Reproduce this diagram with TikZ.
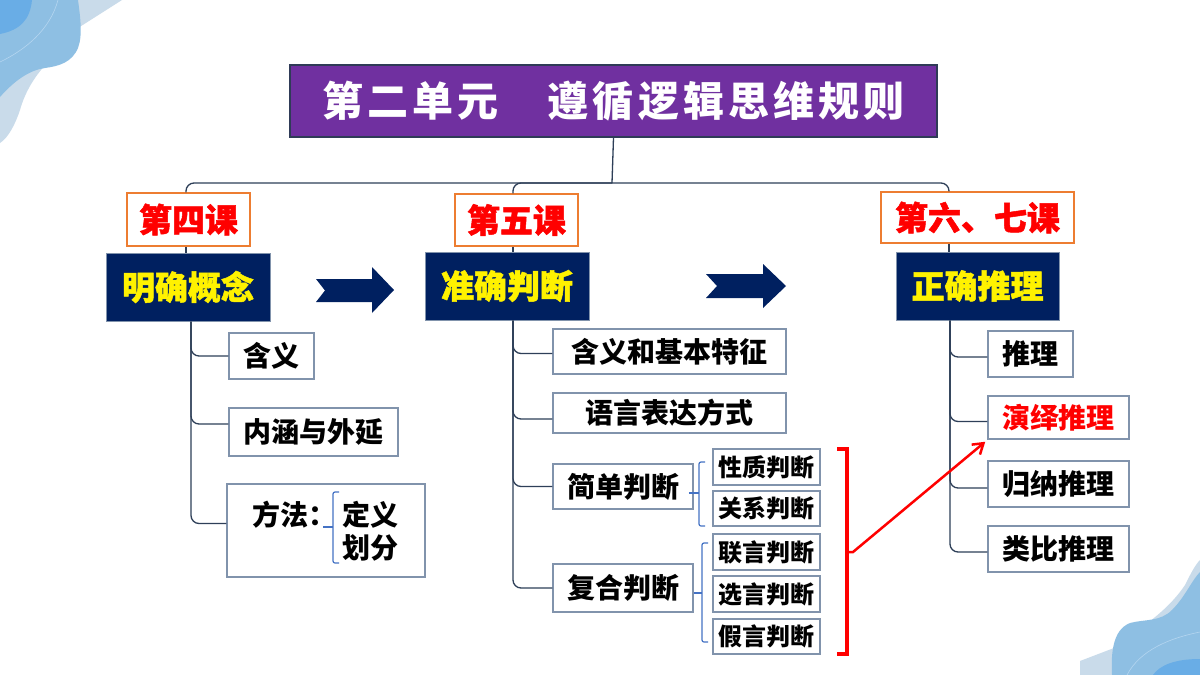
\documentclass[tikz,border=0pt]{standalone}
\usepackage{fontspec}
\usetikzlibrary{arrows.meta,calc}
\newfontfamily\cjk{Noto Sans CJK SC}
\newfontfamily\cjkhv{Noto Sans CJK SC}[BoldFeatures={FakeBold=1.5}]
\newfontfamily\cjkttl{Noto Sans CJK SC}[LetterSpace=10]
\definecolor{ttlpurple}{HTML}{7030A0}
\definecolor{ttlborder}{HTML}{2F3B57}
\definecolor{navy}{HTML}{002060}
\definecolor{hdorange}{HTML}{ED7D31}
\definecolor{boxborder}{HTML}{8193AC}
\definecolor{connc}{HTML}{2E3F58}
\definecolor{bracec}{HTML}{4472C4}
\definecolor{decolight}{HTML}{C9DBEA}
\definecolor{decomid}{HTML}{8EBFE3}
\definecolor{decodark}{HTML}{69ADE6}
\definecolor{decoline}{HTML}{B5D6F0}
\tikzset{
  ttlbox/.style={draw=ttlborder, line width=1.5pt, fill=ttlpurple, text=white, inner sep=0pt,
    font=\cjkttl\bfseries\fontsize{41}{41}\selectfont},
  hdbox/.style={draw=hdorange, line width=1.5pt, fill=white, text=red, inner sep=0pt,
    font=\cjkhv\bfseries\fontsize{33}{33}\selectfont},
  topicbox/.style={draw=boxborder, line width=1pt, fill=navy, text=yellow, inner sep=0pt,
    font=\cjkhv\bfseries\fontsize{33}{33}\selectfont},
  childbox/.style={draw=boxborder, line width=1.5pt, fill=white, text=black, inner sep=0pt,
    font=\cjk\bfseries\fontsize{28}{28}\selectfont},
  smallbox/.style={draw=boxborder, line width=1.5pt, fill=white, text=black, inner sep=0pt,
    font=\cjk\bfseries\fontsize{24}{24}\selectfont},
  plain/.style={inner sep=0pt, text=black, font=\cjk\bfseries\fontsize{28}{28}\selectfont},
  conn/.style={draw=connc, line width=1.3pt},
  rconn/.style={conn, rounded corners=8pt},
  brc/.style={draw=bracec, line width=1.2pt, rounded corners=2pt},
  redbr/.style={draw=red, line width=3.5pt},
  redarr/.style={draw=red, line width=2.5pt, -{Straight Barb[length=10pt,width=13pt,line width=2.5pt]}},
  blockarr/.style={fill=navy, draw=none},
}
\begin{document}
\begin{tikzpicture}[x=1pt,y=-1pt]
\useasboundingbox (0,0) rectangle (1200,675);
\fill[white] (0,0) rectangle (1200,675);
% decorations top-left
\fill[decolight] (0,0) -- (122,0) -- (78,28) -- (50,60) .. controls (35,75) and (25,92) .. (20,110) .. controls (15,125) and (8,138) .. (0,143) -- cycle;
\fill[decomid] (0,0) -- (78,0) .. controls (80,15) and (83,35) .. (78,48) .. controls (72,62) and (60,66) .. (45,68) .. controls (30,70) and (15,80) .. (0,97) -- cycle;
\fill[decodark] (0,0) -- (32,0) .. controls (30,20) and (20,30) .. (0,34) -- cycle;
\draw[decoline, line width=0.6pt] (0,62) .. controls (25,50) and (50,30) .. (58,0);
% decorations bottom-right
\fill[decolight] (1080,661) -- (1114,648) -- (1135,632) .. controls (1160,615) and (1175,600) .. (1185,585) .. controls (1190,575) and (1195,565) .. (1200,560) -- (1200,675) -- (1080,675) -- cycle;
\fill[decomid] (1112,675) .. controls (1111,655) and (1112,630) .. (1130,623) .. controls (1145,619) and (1160,622) .. (1172,610) .. controls (1185,597) and (1192,580) .. (1200,572) -- (1200,675) -- cycle;
\fill[decodark] (1153,675) .. controls (1160,665) and (1175,659) .. (1200,659) -- (1200,675) -- cycle;
\draw[decoline, line width=0.6pt] (1127,675) .. controls (1140,650) and (1170,638) .. (1200,632);

% title
\node[ttlbox, minimum width=647pt, minimum height=72pt] (ttl) at (613.5,101) {第二单元　遵循逻辑思维规则};

% headings
\node[hdbox, minimum width=123pt, minimum height=53pt] (h1) at (188.5,219.5) {第四课};
\node[hdbox, minimum width=123pt, minimum height=52pt] (h2) at (516.5,220) {第五课};
\node[hdbox, minimum width=193pt, minimum height=51pt] (h3) at (977.5,217.5) {第六、七课};

\node[topicbox, minimum width=164pt, minimum height=68pt] (m1) at (188,287) {明确概念};
\node[topicbox, minimum width=164pt, minimum height=68pt] (m2) at (507,286) {准确判断};
\node[topicbox, minimum width=163pt, minimum height=68pt] (m3) at (977.5,286) {正确推理};

% block arrows
\fill[blockarr] (316,279) -- (372,279) -- (372,267) -- (394,290) -- (372,313) -- (372,302) -- (316,302) -- (325,290.5) -- cycle;
\fill[blockarr] (706,274) -- (763,274) -- (763,264) -- (786,286) -- (763,308) -- (763,298) -- (706,298) -- (717,286) -- cycle;

% left children
\node[childbox, minimum width=85pt, minimum height=46pt] (a1) at (271.5,356) {含义};
\node[childbox, minimum width=169pt, minimum height=48pt] (a2) at (313.5,432) {内涵与外延};
\node[childbox, minimum width=198pt, minimum height=93pt] (a3) at (326,530.5) {};
\node[plain, anchor=west] (ff) at (252,515) {方法：};
\node[plain] (dy) at (370,515) {定义};
\node[plain] (hf) at (370,548) {划分};

% middle children
\node[childbox, minimum width=233pt, minimum height=45pt] (b1) at (669.5,351.5) {含义和基本特征};
\node[childbox, minimum width=233pt, minimum height=40pt] (b2) at (669.5,413) {语言表达方式};
\node[childbox, minimum width=140pt, minimum height=45pt] (b3) at (623,486.5) {简单判断};
\node[childbox, minimum width=140pt, minimum height=48pt] (b4) at (623,588) {复合判断};
\node[smallbox, minimum width=107pt, minimum height=36pt] (s1) at (766.5,467) {性质判断};
\node[smallbox, minimum width=107pt, minimum height=35pt] (s2) at (766.5,508.5) {关系判断};
\node[smallbox, minimum width=107pt, minimum height=36pt] (s3) at (766.5,552) {联言判断};
\node[smallbox, minimum width=107pt, minimum height=36pt] (s4) at (766.5,594) {选言判断};
\node[smallbox, minimum width=107pt, minimum height=35pt] (s5) at (766.5,636.5) {假言判断};

% right children
\node[childbox, minimum width=85pt, minimum height=46pt] (r1) at (1030.5,354) {推理};
\node[childbox, minimum width=141pt, minimum height=43pt, text=red] (r2) at (1058.5,417.5) {演绎推理};
\node[childbox, minimum width=141pt, minimum height=46pt] (r3) at (1058.5,484) {归纳推理};
\node[childbox, minimum width=141pt, minimum height=46pt] (r4) at (1058.5,549) {类比推理};

% top connectors
\coordinate (hub) at (612,183);
\draw[conn] (ttl.south) -- (hub);
\draw[rconn] ([xshift=-2.5pt]h1.north) |- (hub);
\draw[rconn] ([xshift=-3.5pt]h2.north) |- (hub);
\draw[rconn] ([xshift=-28.5pt]h3.north) |- (hub);
\draw[conn] ([xshift=-2.5pt]h1.south) -- ([xshift=-2pt]m1.north);
\draw[conn] ([xshift=-3.5pt]h2.south) -- ([xshift=6pt]m2.north);
\draw[conn] ([xshift=-28.5pt]h3.south) -- ([xshift=-28.5pt]m3.north);

% trunks
\draw[rconn] ([xshift=3pt]m1.south) |- (a1.west);
\draw[rconn] ([xshift=3pt]m1.south) |- ([yshift=8pt]a2.west);
\draw[rconn] ([xshift=3pt]m1.south) |- ([yshift=7pt]a3.west);
\draw[rconn] ([xshift=6pt]m2.south) |- ([yshift=-2pt]b1.west);
\draw[rconn] ([xshift=6pt]m2.south) |- ([yshift=-6pt]b2.west);
\draw[rconn] ([xshift=6pt]m2.south) |- (b3.west);
\draw[rconn] ([xshift=6pt]m2.south) |- (b4.west);
\draw[rconn] ([xshift=-27.5pt]m3.south) |- ([yshift=-3pt]r1.west);
\draw[rconn] ([xshift=-27.5pt]m3.south) |- ([yshift=-4pt]r2.west);
\draw[rconn] ([xshift=-27.5pt]m3.south) |- ([yshift=-4pt]r3.west);
\draw[rconn] ([xshift=-27.5pt]m3.south) |- ([yshift=-3pt]r4.west);

% braces
\coordinate (k0) at (333,527);
\draw[brc] (339,492) -- (333,492) -- (333,563) -- (339,563);
\draw[brc] (323,527) -- (k0);
\coordinate (k1) at (699,493);
\draw[brc] (705,462) -- (699,462) -- (699,526) -- (705,526);
\draw[brc] ([xshift=-5pt]b3.east |- k1) -- (k1);
\coordinate (k2) at (702,593);
\draw[brc] (708,543) -- (702,543) -- (702,642) -- (708,642);
\draw[brc] (b4.east |- k2) -- (k2);

% red bracket and arrow
\draw[redbr] (837,449) -- (847,449) -- (847,654) -- (837,654);
\coordinate (rb) at (847,552);
\draw[redarr] (rb) -- (853,552) -- ([xshift=-2pt,yshift=-2pt]r2.south west);
\end{tikzpicture}
\end{document}
